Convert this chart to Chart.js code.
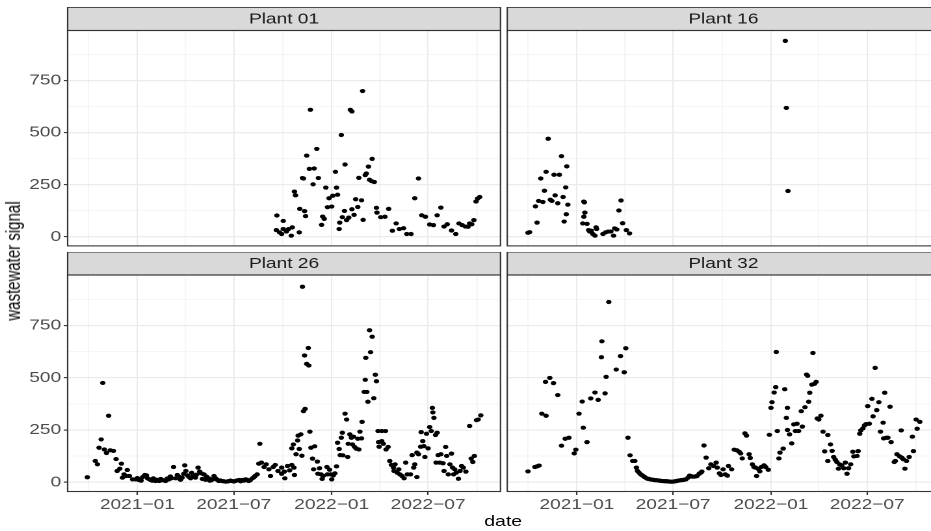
<!DOCTYPE html>
<html>
<head>
<meta charset="utf-8">
<script src="https://cdn.jsdelivr.net/npm/chart.js@4/dist/chart.umd.min.js"></script>
<style>
  html, body { margin: 0; padding: 0; overflow: hidden; background: #fff; }
  /* the reference is stretched sideways, so draw narrow and scale the whole figure */
  #fig { position: absolute; left: 0; top: 0; width: 716px; height: 531px; overflow: hidden;
         transform: scaleX(1.3003); transform-origin: 0 0; font-family: "Liberation Sans", Arial, sans-serif; }
  #fig canvas { position: absolute; }
  .ttl { position: absolute; font-size: 15px; color: #000; white-space: nowrap; }
  #xt { left: 387px; top: 520px; transform: translate(-50%, -50%); }
  #yt { left: 9.5px; top: 261px; transform: translate(-50%, -50%) rotate(-90deg); }
</style>
</head>
<body>
<div id="fig">
  <canvas id="p01" width="387" height="241" style="left:0;top:7px"></canvas>
  <canvas id="p16" width="340" height="241" style="left:388px;top:7px"></canvas>
  <canvas id="p26" width="387" height="279" style="left:0;top:252px"></canvas>
  <canvas id="p32" width="340" height="279" style="left:388px;top:252px"></canvas>
  <div class="ttl" id="xt">date</div>
  <div class="ttl" id="yt">wastewater signal</div>
</div>
<script>
// x values are days since 2021-01-01
var xTickDays = [0, 181, 365, 546];
var xTickLabels = ['2021−01', '2021−07', '2022−01', '2022−07'];
var xMinorDays = [-92, 90, 273, 455, 638];
var yTickValues = [0, 250, 500, 750];
var yMinorValues = [125, 375, 625, 875];
var xMin = -131, xMax = 682;
var yMin = -44, yMax = 991;

var plant01Days = [261, 262, 267, 271, 274, 274, 280, 284, 289, 291, 295, 297, 304, 305, 310, 312, 314, 316, 318, 323, 325,
  330, 332, 337, 340, 346, 348, 351, 354, 357, 360, 365, 367, 372, 374, 376, 379, 380, 383, 385, 389, 390, 393, 397,
  400, 403, 403, 407, 410, 414, 416, 421, 423, 424, 428, 430, 434, 436, 440, 441, 445, 449, 450, 457, 465, 472, 479,
  486, 492, 500, 506, 514, 521, 528, 534, 541, 549, 556, 563, 570, 576, 582, 590, 598, 604, 610, 616, 621, 624, 628,
  632, 636, 639, 643];
var plant01Signal = [32, 102, 21, 13, 76, 37, 25, 37, 5, 45, 217, 199, 21, 134, 282, 280, 123, 99, 390, 326, 610,
  252, 328, 422, 282, 57, 97, 86, 236, 142, 185, 145, 197, 312, 236, 202, 37, 68, 489, 94, 124, 347, 80, 92,
  610, 602, 132, 105, 180, 143, 283, 175, 700, 81, 296, 304, 337, 274, 267, 374, 263, 139, 116, 94, 96, 134, 29,
  64, 37, 41, 13, 13, 185, 280, 103, 96, 59, 56, 103, 140, 49, 60, 30, 13, 64, 56, 49, 48, 64, 60,
  80, 169, 183, 191];

var plant16Days = [-92, -89, -78, -75, -72, -68, -64, -61, -58, -54, -50, -47, -43, -41, -36, -33, -29, -26, -24, -21,
  -20, -19, -17, 11, 13, 13, 14, 15, 19, 22, 24, 27, 30, 34, 36, 37, 49, 54, 59, 64, 69, 71, 75, 79, 83, 86, 93, 99,
  392, 394, 397];
var plant16Signal = [19, 22, 146, 68, 172, 280, 167, 221, 312, 471, 178, 172, 298, 199, 161, 298, 387, 191, 73, 237,
  108, 338, 154, 64, 96, 169, 165, 116, 62, 32, 25, 29, 13, 5, 45, 37, 13, 21, 25, 25, 5, 40, 35, 126, 174, 65, 32, 16,
  941, 619, 220];

var plant26Days = [-94, -79, -75, -72, -68, -65, -62, -58, -54, -51, -45, -40, -38, -33, -30, -28, -25, -21, -19, -15,
  -9, -3, 0, 3, 7, 10, 14, 17, 19, 22, 25, 28, 30, 34, 37, 41, 44, 47, 50, 53, 56, 59, 62, 64, 68, 72, 75, 78, 81, 84,
  87, 89, 91, 94, 97, 100, 102, 105, 109, 111, 114, 117, 120, 122, 125, 128, 130, 134, 136, 139, 142, 144, 147, 150,
  153, 156, 159, 162, 166, 169, 172, 175, 178, 181, 184, 187, 191, 194, 197, 200, 203, 206, 209, 212, 216, 219, 221,
  225, 228, 230, 233, 238, 242, 247, 250, 255, 259, 264,
  271, 271, 276, 277, 282, 286, 290, 290, 293, 294, 295, 298, 301, 302, 304, 307, 309, 310, 312, 314, 315, 318, 321,
  322, 324, 326, 329, 331, 333, 338, 339, 342, 345, 347, 349, 356, 357, 361, 363, 365, 368, 371, 374, 376, 379, 381,
  383, 385, 386, 390, 393, 395, 396, 399, 402, 404, 406, 408, 411, 414, 416, 418, 421, 422, 426, 428, 429, 431, 433,
  436, 438, 441, 444, 447, 449, 452, 453, 454, 459, 459, 462, 466, 467, 471, 474, 477, 481, 482, 484, 488, 491, 493,
  497, 501, 504, 507, 513, 516, 519, 521, 525, 525, 528, 532, 533, 536, 538, 540, 543, 546, 549, 552, 554, 555, 557,
  560, 561, 563, 565, 568, 570, 574, 576, 579, 581, 584, 587, 590, 592, 594, 596, 599, 603, 606, 609, 612, 617, 624,
  627, 630, 633, 637, 640, 645];
var plant26Signal = [24, 102, 86, 165, 205, 475, 157, 140, 318, 153, 150, 111, 54, 65, 89, 22, 38, 30, 59, 30,
  14, 14, 20, 11, 8, 25, 35, 33, 19, 15, 11, 8, 19, 6, 12, 6, 16, 10, 9, 6, 18, 14, 28, 19, 73, 19, 35, 27, 12, 22,
  40, 81, 54, 33, 25, 19, 45, 30, 22, 36, 70, 51, 43, 16, 38, 12, 27, 19, 8, 10, 15, 30, 19, 12,
  6, 9, 6, 5, 3, 4, 6, 8, 6, 4, 6, 9, 11, 5, 11, 8, 14, 12, 6, 10, 19, 24, 30,
  38, 89, 184, 94, 73, 86, 62, 30, 73, 83, 54,
  70, 41, 51, 19, 78, 57, 83, 162, 181, 70, 35, 134, 200, 223, 159, 229, 127, 935, 340, 606, 351, 566, 642,
  558, 242, 165, 113, 62, 172, 99, 41, 67, 38, 16, 30, 73, 38, 60, 38, 14, 33, 43, 76, 189, 159, 130,
  213, 237, 129, 328, 300, 121, 184, 229, 213, 181, 218, 169, 161, 208, 157, 242, 210, 289, 432, 490, 595, 432, 385,
  727, 622, 696, 402, 514, 483, 245, 192, 170, 245, 197, 184, 245, 157, 169, 102, 83, 70, 54, 86, 46, 62, 38,
  30, 19, 94, 38, 38, 130, 70, 86, 25, 142, 134, 170, 240, 197, 173, 121, 232, 162, 264, 245, 356, 334, 308,
  226, 94, 237, 130, 94, 134, 91, 54, 169, 126, 38, 86, 137, 70, 38, 62, 46, 17, 54, 78, 70, 51, 269,
  113, 97, 126, 297, 300, 320];

var plant32Days = [-92, -79, -75, -71, -66, -59, -58, -51, -44, -36, -29, -22, -15, -5, -2, 4, 10, 12, 19, 26, 34, 40,
  46, 47, 53, 55, 60, 74, 82, 89, 92, 96, 100, 105, 109, 112, 114, 117, 120, 123, 126, 128, 131, 133, 136, 138, 140,
  143, 145, 148, 150, 153, 155, 158, 160, 163, 165, 168, 170, 173, 175, 178, 180, 183, 185, 188, 190, 193, 195, 198,
  200, 203, 205, 209, 212, 215, 217, 221, 224, 226, 230, 233, 235, 239, 243, 248, 252, 257,
  262, 264, 268, 271, 275, 279, 283, 285, 291, 296, 301, 305, 308, 311, 316, 319, 324, 326, 330, 333, 336, 338, 341,
  344, 347, 352, 355, 360, 362, 365, 367, 371, 374, 375, 377, 380, 382, 388, 391, 394, 396, 396, 400, 404, 408, 411,
  414, 417, 422, 424, 429, 432, 434, 436, 438, 442, 444, 447, 450, 452, 455, 459, 463, 466, 472, 472, 477, 480, 483,
  486, 489, 492, 494, 498, 502, 505, 508, 511, 515, 519, 521, 527, 529, 532, 534, 538, 541, 544, 547, 550, 555, 557,
  561, 564, 568, 571, 576, 577, 579, 582, 585, 589, 591, 597, 599, 602, 607, 610, 611, 614, 617, 620, 625, 631, 633,
  638, 640, 645];
var plant32Signal = [52, 73, 76, 80, 328, 480, 318, 499, 474, 417, 175, 208, 213, 138, 156, 328, 386, 261, 192, 401, 429, 394,
  598, 674, 425, 504, 862, 539, 603, 526, 641, 213, 129, 102, 102, 70, 54, 46, 38, 33, 27, 24, 19, 17, 16, 14, 13,
  12, 11, 10, 10, 9, 8, 7, 6, 6, 5, 5, 5, 4, 3, 3, 3, 4, 5, 6, 8, 9, 10, 11,
  11, 13, 14, 22, 32, 29, 27, 27, 29, 30, 41, 46, 51, 176, 118, 67, 86, 78,
  94, 70, 43, 35, 62, 38, 32, 78, 62, 156, 153, 146, 138, 114, 234, 223, 134, 116, 86, 73, 70, 30, 64,
  52, 73, 81, 73, 60, 227, 356, 383, 429, 455, 623, 245, 114, 142, 161, 445, 308, 356, 250, 229, 186, 277, 245,
  280, 245, 340, 266, 359, 515, 509, 385, 428, 467, 618, 471, 480, 305, 300, 318, 242, 148, 226, 102, 181, 150, 121,
  108, 97, 65, 86, 81, 67, 94, 41, 67, 86, 146, 124, 126, 149, 232, 248, 258, 272, 278, 364, 280, 399, 315,
  547, 345, 383, 242, 285, 210, 428, 213, 213, 361, 192, 97, 102, 134, 124, 248, 118, 110, 65, 102, 121, 218, 149,
  300, 256, 289];

var FONT = '"Liberation Sans", Arial, sans-serif';

// strip on top of each panel plus the dark panel border
var panelFrame = {
  id: 'panelFrame',
  afterDraw: function (chart, args, opts) {
    var ctx = chart.ctx, a = chart.chartArea, w = a.right - a.left, h = opts.stripHeight;
    ctx.save();
    ctx.fillStyle = '#D9D9D9';
    ctx.fillRect(a.left, a.top - h, w, h);
    ctx.strokeStyle = '#333333';
    ctx.lineWidth = 1.1;
    ctx.strokeRect(a.left, a.top - h, w, h);
    ctx.strokeRect(a.left, a.top, w, a.bottom - a.top);
    ctx.fillStyle = '#1A1A1A';
    ctx.font = '14.7px ' + FONT;
    ctx.textAlign = 'center';
    ctx.textBaseline = 'middle';
    ctx.fillText(opts.label, a.left + w / 2, a.top - h / 2 + 0.5);
    ctx.restore();
  }
};

function isMajorX(v) { return xTickDays.indexOf(v) >= 0; }
function isMajorY(v) { return yTickValues.indexOf(v) >= 0; }

function makePanel(id, label, days, signal, showX, showY, padding, strip) {
  var points = days.map(function (d, i) { return { x: d, y: signal[i] }; });
  return new Chart(document.getElementById(id), {
    type: 'scatter',
    data: {
      datasets: [{
        data: points,
        backgroundColor: '#000000',
        borderColor: '#000000',
        borderWidth: 0,
        pointRadius: 2.1,
        pointHoverRadius: 2.1
      }]
    },
    options: {
      responsive: false,
      maintainAspectRatio: false,
      animation: false,
      devicePixelRatio: 2,
      events: [],
      layout: { padding: padding },
      plugins: {
        legend: { display: false },
        tooltip: { enabled: false },
        panelFrame: { label: label, stripHeight: strip }
      },
      scales: {
        x: {
          type: 'linear',
          min: xMin,
          max: xMax,
          afterBuildTicks: function (s) {
            s.ticks = xMinorDays.concat(xTickDays).sort(function (a, b) { return a - b; })
              .map(function (v) { return { value: v }; });
          },
          afterFit: function (s) {
            s.height = showX ? 39.5 : 0;
            s.paddingLeft = 0; s.paddingRight = 0;
          },
          border: { display: false },
          grid: {
            color: '#EBEBEB',
            lineWidth: function (c) { return isMajorX(c.tick.value) ? 1.0 : 0.5; },
            drawTicks: showX,
            tickLength: 3.5,
            tickWidth: 1.1,
            tickColor: function (c) { return isMajorX(c.tick.value) ? '#333333' : 'rgba(0,0,0,0)'; }
          },
          ticks: {
            display: showX,
            autoSkip: false,
            maxRotation: 0,
            padding: 1,
            color: '#4D4D4D',
            font: { family: FONT, size: 14.7 },
            callback: function (v) {
              var k = xTickDays.indexOf(v);
              return k >= 0 ? xTickLabels[k] : '';
            }
          }
        },
        y: {
          type: 'linear',
          min: yMin,
          max: yMax,
          afterBuildTicks: function (s) {
            s.ticks = yTickValues.concat(yMinorValues).sort(function (a, b) { return a - b; })
              .map(function (v) { return { value: v }; });
          },
          afterFit: function (s) {
            s.width = showY ? 52 : 0;
            s.paddingTop = 0; s.paddingBottom = 0;
          },
          border: { display: false },
          grid: {
            color: '#EBEBEB',
            lineWidth: function (c) { return isMajorY(c.tick.value) ? 1.2 : 0.6; },
            drawTicks: showY,
            tickLength: 3,
            tickWidth: 1.1,
            tickColor: function (c) { return isMajorY(c.tick.value) ? '#333333' : 'rgba(0,0,0,0)'; }
          },
          ticks: {
            display: showY,
            padding: 2,
            color: '#4D4D4D',
            font: { family: FONT, size: 14.7 },
            callback: function (v) { return isMajorY(v) ? String(v) : ''; }
          }
        }
      }
    },
    plugins: [panelFrame]
  });
}

makePanel('p01', 'Plant 01', plant01Days, plant01Signal, false, true, { top: 23.5, right: 2, bottom: 1, left: 0 }, 23.2);
makePanel('p16', 'Plant 16', plant16Days, plant16Signal, false, false, { top: 23.5, right: 5.5, bottom: 1, left: 1.1 }, 23.2);
makePanel('p26', 'Plant 26', plant26Days, plant26Signal, true, true, { top: 23, right: 2, bottom: 0, left: 0 }, 23);
makePanel('p32', 'Plant 32', plant32Days, plant32Signal, true, false, { top: 23, right: 5.5, bottom: 0, left: 1.1 }, 23);
</script>
</body>
</html>
